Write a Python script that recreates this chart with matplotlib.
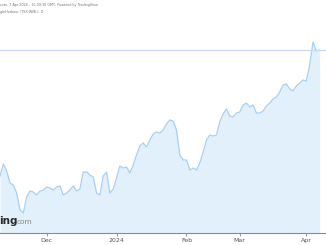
import matplotlib
matplotlib.use('Agg')
import matplotlib.pyplot as plt

# daily closes (one per trading bar)
closes = [0.485, 0.545, 0.51, 0.45, 0.44, 0.40, 0.315, 0.30, 0.38, 0.41,
          0.405, 0.39, 0.41, 0.415, 0.43, 0.425, 0.415, 0.43, 0.435, 0.39,
          0.40, 0.415, 0.435, 0.41, 0.42, 0.505, 0.505, 0.49, 0.48, 0.40,
          0.39, 0.485, 0.505, 0.40, 0.42, 0.475, 0.535, 0.525, 0.53, 0.50,
          0.54, 0.59, 0.635, 0.65, 0.63, 0.665, 0.695, 0.705, 0.70, 0.715,
          0.745, 0.765, 0.76, 0.715, 0.59, 0.565, 0.565, 0.515, 0.525, 0.515,
          0.55, 0.605, 0.665, 0.69, 0.685, 0.69, 0.755, 0.795, 0.82, 0.785,
          0.78, 0.80, 0.805, 0.84, 0.85, 0.83, 0.84, 0.80, 0.80, 0.81,
          0.835, 0.85, 0.87, 0.88, 0.905, 0.94, 0.945, 0.92, 0.91, 0.935,
          0.95, 0.965, 0.96, 1.04, 1.155, 1.11, 1.115]
bars = list(range(len(closes)))

month_bars = [14, 35, 56, 72, 92]
month_labels = ['Dec', '2024', 'Feb', 'Mar', 'Apr']

header1 = 'com, 7 Apr 2024 - 15:09:10 GMT, Powered by TradingView.'
header2 = 'gleHarbour (TSX:WML), D'

line_col = '#a9cff4'
fill_col = '#e2f0fc'

fig = plt.figure(figsize=(3.26, 2.45), dpi=100)
ax = fig.add_axes([0, 12 / 245, 1, 213 / 245])

ax.fill_between(bars, closes, 0.2, color=fill_col, lw=0)
ax.plot(bars, closes, color=line_col, lw=0.9)
ax.axhline(closes[-1], color='#c5dcf7', lw=0.9)

ax.set_xlim(0, 97.9)
ax.set_ylim(0.2, 1.265)

for s in ['top', 'right', 'left']:
    ax.spines[s].set_visible(False)
ax.spines['bottom'].set_color('#8a8a8a')
ax.spines['bottom'].set_linewidth(0.8)
ax.set_yticks([])
ax.set_xticks(month_bars)
ax.set_xticklabels(month_labels, fontsize=4.5, color='#555555')
ax.tick_params(axis='x', length=2.5, width=0.6, color='#8a8a8a', pad=1.0)

fig.text(0.0, 1 - 5 / 245, header1, fontsize=2.4, color='#777777', va='center', ha='left')
fig.text(0.0, 1 - 12 / 245, header2, fontsize=2.4, color='#777777', va='center', ha='left')

# cropped TradingView watermark
fig.text(-0.004, 1 - 221 / 245, 'ing', fontsize=7.5, fontweight='bold', color='#2a2a2a',
         va='center', ha='left')
fig.text(17 / 326, 1 - 222 / 245, 'com', fontsize=5.3, color='#888888', va='center', ha='left')

fig.savefig('out.png', dpi=100)
